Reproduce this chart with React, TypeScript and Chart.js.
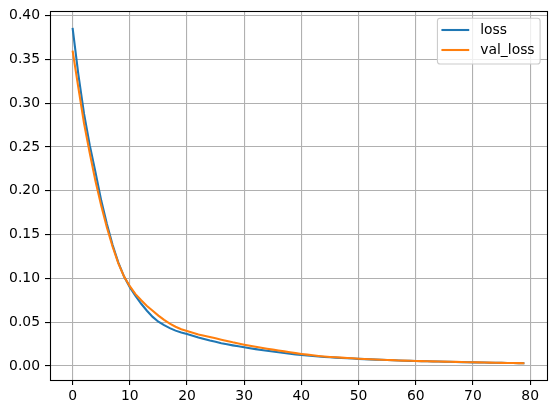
import React, { useEffect, useRef } from "react";
import { Chart, registerables } from "chart.js";

Chart.register(...registerables);

const lossValues: number[] = [
  0.386, 0.333, 0.288, 0.252, 0.221, 0.189, 0.162, 0.138, 0.118, 0.102,
  0.09, 0.08, 0.071, 0.063, 0.056, 0.0505, 0.0465, 0.0432, 0.0403, 0.0382,
  0.0365, 0.0345, 0.0325, 0.0307, 0.029, 0.0275, 0.026, 0.0247, 0.0235, 0.0224,
  0.0213, 0.0202, 0.0192, 0.0182, 0.0173, 0.0164, 0.0156, 0.0148, 0.014, 0.0132,
  0.0125, 0.0119, 0.0113, 0.0108, 0.0103, 0.0099, 0.0095, 0.0091, 0.0088, 0.0085,
  0.0081, 0.0078, 0.0075, 0.0072, 0.007, 0.0067, 0.0065, 0.0062, 0.006, 0.0058,
  0.0056, 0.0054, 0.0053, 0.0051, 0.005, 0.0048, 0.0047, 0.0045, 0.0044, 0.0043,
  0.0041, 0.004, 0.0039, 0.0037, 0.0036, 0.0035, 0.0034, 0.0033, 0.0032, 0.0031,
];

const valLossValues: number[] = [
  0.36, 0.318, 0.277, 0.243, 0.211, 0.183, 0.158, 0.136, 0.117, 0.102,
  0.091, 0.082, 0.075, 0.0685, 0.063, 0.0575, 0.0525, 0.0482, 0.0448, 0.042,
  0.04, 0.038, 0.036, 0.0345, 0.033, 0.0315, 0.03, 0.0285, 0.027, 0.0257,
  0.0243, 0.023, 0.0218, 0.0207, 0.0196, 0.0186, 0.0176, 0.0166, 0.0156, 0.0146,
  0.0137, 0.0129, 0.0121, 0.0114, 0.0108, 0.0103, 0.0099, 0.0095, 0.0091, 0.0087,
  0.0083, 0.008, 0.0077, 0.0074, 0.0071, 0.0068, 0.0066, 0.0063, 0.0061, 0.0059,
  0.0057, 0.0055, 0.0054, 0.0052, 0.0051, 0.0049, 0.0048, 0.0046, 0.0045, 0.0043,
  0.0042, 0.0041, 0.0039, 0.0038, 0.0037, 0.0035, 0.0034, 0.0033, 0.0032, 0.0031,
];

const seriesNames: string[] = ["loss", "val_loss"];
const seriesColors: string[] = ["#1f77b4", "#ff7f0e"];
const xTickValues: number[] = [0, 10, 20, 30, 40, 50, 60, 70, 80];
const yTickValues: number[] = [0, 0.05, 0.1, 0.15, 0.2, 0.25, 0.3, 0.35, 0.4];

const FONT = "'DejaVu Sans', sans-serif";
const FONT_SIZE = 13.9;

const frameAndLegend = {
  id: "frameAndLegend",
  afterDatasetsDraw(chart: any) {
    const { ctx, chartArea } = chart;
    ctx.save();
    ctx.strokeStyle = "#000";
    ctx.lineWidth = 1.1;
    ctx.strokeRect(
      Math.round(chartArea.left) + 0.5,
      Math.round(chartArea.top) + 0.5,
      Math.round(chartArea.right - chartArea.left),
      Math.round(chartArea.bottom - chartArea.top)
    );
    ctx.font = `${FONT_SIZE}px ${FONT}`;
    const labels = chart.data.datasets.map((d: any) => d.label);
    const maxW = Math.max(...labels.map((l: string) => ctx.measureText(l).width));
    const right = chartArea.right - 6.9;
    const top = chartArea.top + 7.3;
    const textLeft = right - 5.5 - maxW;
    const handleEnd = textLeft - 11;
    const handleStart = handleEnd - 27.8;
    const left = handleStart - 4;
    const bottom = top + 45.7;
    const r = 2.8;
    ctx.beginPath();
    ctx.moveTo(left + r, top);
    ctx.lineTo(right - r, top);
    ctx.quadraticCurveTo(right, top, right, top + r);
    ctx.lineTo(right, bottom - r);
    ctx.quadraticCurveTo(right, bottom, right - r, bottom);
    ctx.lineTo(left + r, bottom);
    ctx.quadraticCurveTo(left, bottom, left, bottom - r);
    ctx.lineTo(left, top + r);
    ctx.quadraticCurveTo(left, top, left + r, top);
    ctx.closePath();
    ctx.fillStyle = "rgba(255,255,255,0.8)";
    ctx.fill();
    ctx.strokeStyle = "#cccccc";
    ctx.lineWidth = 1.1;
    ctx.stroke();
    chart.data.datasets.forEach((d: any, i: number) => {
      const cy = top + 11.7 + i * 20;
      ctx.beginPath();
      ctx.strokeStyle = d.borderColor;
      ctx.lineWidth = 2.08;
      ctx.moveTo(handleStart, cy);
      ctx.lineTo(handleEnd, cy);
      ctx.stroke();
      ctx.fillStyle = "#000";
      ctx.textBaseline = "middle";
      ctx.textAlign = "left";
      ctx.fillText(d.label, textLeft, cy);
    });
    ctx.restore();
  },
};

export default function App() {
  const canvasRef = useRef<HTMLCanvasElement | null>(null);

  useEffect(() => {
    document.body.style.margin = "0";
    const canvas = canvasRef.current;
    if (!canvas) return;
    const allVals = [...lossValues, ...valLossValues];
    const dMin = Math.min(...allVals);
    const dMax = Math.max(...allVals);
    const yPad = (dMax - dMin) * 0.05;
    const n = lossValues.length - 1;
    const xPad = n * 0.05;

    const chart = new Chart(canvas, {
      type: "line",
      data: {
        datasets: [
          {
            label: seriesNames[0],
            data: lossValues.map((v, i) => ({ x: i, y: v })),
            borderColor: seriesColors[0],
            backgroundColor: seriesColors[0],
            borderWidth: 2.08,
            pointRadius: 0,
            tension: 0,
            order: 1,
          },
          {
            label: seriesNames[1],
            data: valLossValues.map((v, i) => ({ x: i, y: v })),
            borderColor: seriesColors[1],
            backgroundColor: seriesColors[1],
            borderWidth: 2.08,
            pointRadius: 0,
            tension: 0,
            order: 0,
          },
        ],
      },
      options: {
        responsive: false,
        animation: false,
        devicePixelRatio: 1,
        layout: { padding: { top: 11, right: 9, left: 0, bottom: 0 } },
        plugins: {
          legend: { display: false },
          tooltip: { enabled: false },
        },
        scales: {
          x: {
            type: "linear",
            min: -xPad,
            max: n + xPad,
            afterBuildTicks: (scale: any) => {
              scale.ticks = xTickValues.map((v) => ({ value: v }));
            },
            afterFit: (scale: any) => {
              scale.height = 34;
              scale.paddingLeft = 0;
              scale.paddingRight = 0;
            },
            grid: {
              color: "#b0b0b0",
              lineWidth: 1.1,
              tickColor: "#000",
              tickLength: 5,
              drawTicks: true,
            },
            border: { display: false },
            ticks: {
              color: "#000",
              font: { family: FONT, size: FONT_SIZE },
              padding: 3,
              maxRotation: 0,
              autoSkip: false,
              callback: (v: any) => String(Math.round(Number(v))),
            },
          },
          y: {
            type: "linear",
            min: dMin - yPad,
            max: dMax + yPad,
            afterBuildTicks: (scale: any) => {
              scale.ticks = yTickValues.map((v) => ({ value: v }));
            },
            afterFit: (scale: any) => {
              scale.width = 50;
              scale.paddingTop = 0;
              scale.paddingBottom = 0;
            },
            grid: {
              color: "#b0b0b0",
              lineWidth: 1.1,
              tickColor: "#000",
              tickLength: 5,
              drawTicks: true,
            },
            border: { display: false },
            ticks: {
              color: "#000",
              font: { family: FONT, size: FONT_SIZE },
              padding: 5,
              autoSkip: false,
              callback: (v: any) => Number(v).toFixed(2),
            },
          },
        },
      },
      plugins: [frameAndLegend],
    });
    return () => chart.destroy();
  }, []);

  return (
    <div style={{ position: "fixed", left: 0, top: 0, width: 556, height: 414, background: "#fff" }}>
      <canvas ref={canvasRef} width={556} height={414} />
    </div>
  );
}
